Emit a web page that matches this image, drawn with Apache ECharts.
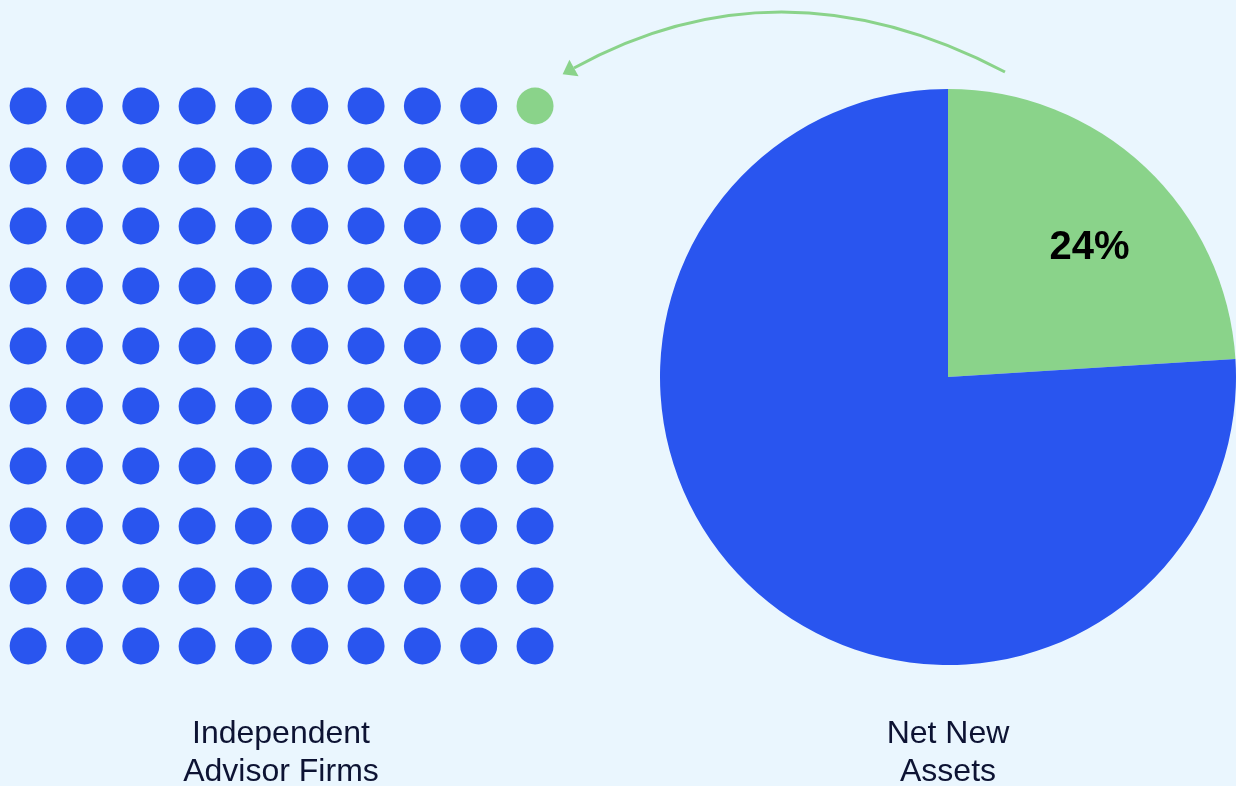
<!DOCTYPE html>
<html>
<head>
<meta charset="utf-8">
<script src="https://cdn.jsdelivr.net/npm/echarts@6/dist/echarts.min.js"></script>
<style>
html,body{margin:0;padding:0;background:#eaf6fe;}
#chart{width:1236px;height:786px;}
</style>
</head>
<body>
<div id="chart"></div>
<script>
// ---- data ----
var waffleCols = 10;
var waffleRows = 10;
var firmCounts = [1, 99];               // highlighted firms, other firms (out of 100)
var pieNames = ['Share', 'Rest'];
var pieValues = [24, 76];               // Net New Assets share (%)
var captions = ['Independent\nAdvisor Firms', 'Net New\nAssets'];

var BLUE = '#2955ef', GREEN = '#8ad38a', BG = '#eaf6fe';

// build waffle cells: first cell (top-right) highlighted
var greenDots = [], blueDots = [];
var idx = 0;
for (var r = 0; r < waffleRows; r++) {
  for (var c = waffleCols; c >= 1; c--) {
    var pt = [c, r + 1];
    if (idx < firmCounts[0]) greenDots.push(pt); else blueDots.push(pt);
    idx++;
  }
}

var chart = echarts.init(document.getElementById('chart'));

// arrow geometry
var P0 = [1005, 72], P1 = [781, -46], P2 = [574, 68];
var dx = P2[0] - P1[0], dy = P2[1] - P1[1];
var L = Math.sqrt(dx*dx + dy*dy); dx /= L; dy /= L;
var headLen = 13, headHalf = 9.5;
var tip = [P2[0] + dx*headLen, P2[1] + dy*headLen];
var b1 = [P2[0] - dy*headHalf, P2[1] + dx*headHalf];
var b2 = [P2[0] + dy*headHalf, P2[1] - dx*headHalf];

chart.setOption({
  backgroundColor: BG,
  animation: false,
  grid: { left: -1.2, right: 1236 - 563.2, top: 76, bottom: 110 },
  xAxis: { type: 'value', min: 0.5, max: 10.5, show: false },
  yAxis: { type: 'value', min: 0.5, max: 10.5, inverse: true, show: false },
  series: [
    { type: 'scatter', data: blueDots, symbol: 'circle', symbolSize: 37,
      itemStyle: { color: BLUE, opacity: 1 }, silent: true },
    { type: 'scatter', data: greenDots, symbol: 'circle', symbolSize: 37,
      itemStyle: { color: GREEN, opacity: 1 }, silent: true },
    { type: 'pie', center: [948, 377], radius: [0, 288], startAngle: 90, clockwise: true,
      silent: true,
      data: [
        { name: pieNames[0], value: pieValues[0], itemStyle: { color: GREEN },
          label: { show: true, position: 'inside', formatter: function(p){ return p.value + '%'; },
            color: '#000', fontSize: 40, fontWeight: 'bold', fontFamily: 'Liberation Sans' } },
        { name: pieNames[1], value: pieValues[1], itemStyle: { color: BLUE }, label: { show: false } }
      ],
      labelLayout: { dx: 41, dy: -22 },
      labelLine: { show: false }
    }
  ],
  graphic: [
    { type: 'bezierCurve', silent: true,
      shape: { x1: P0[0], y1: P0[1], cpx1: P1[0], cpy1: P1[1], x2: P2[0], y2: P2[1] },
      style: { stroke: GREEN, lineWidth: 3, fill: null } },
    { type: 'polygon', silent: true,
      shape: { points: [tip, b1, b2] }, style: { fill: GREEN } },
    { type: 'text', x: 281, y: 715, silent: true,
      style: { text: captions[0], align: 'center', verticalAlign: 'top', fontSize: 32, lineHeight: 38,
        fill: '#0d1333', fontFamily: 'Liberation Sans' } },
    { type: 'text', x: 948, y: 715, silent: true,
      style: { text: captions[1], align: 'center', verticalAlign: 'top', fontSize: 32, lineHeight: 38,
        fill: '#0d1333', fontFamily: 'Liberation Sans' } }
  ]
});
</script>
</body>
</html>
